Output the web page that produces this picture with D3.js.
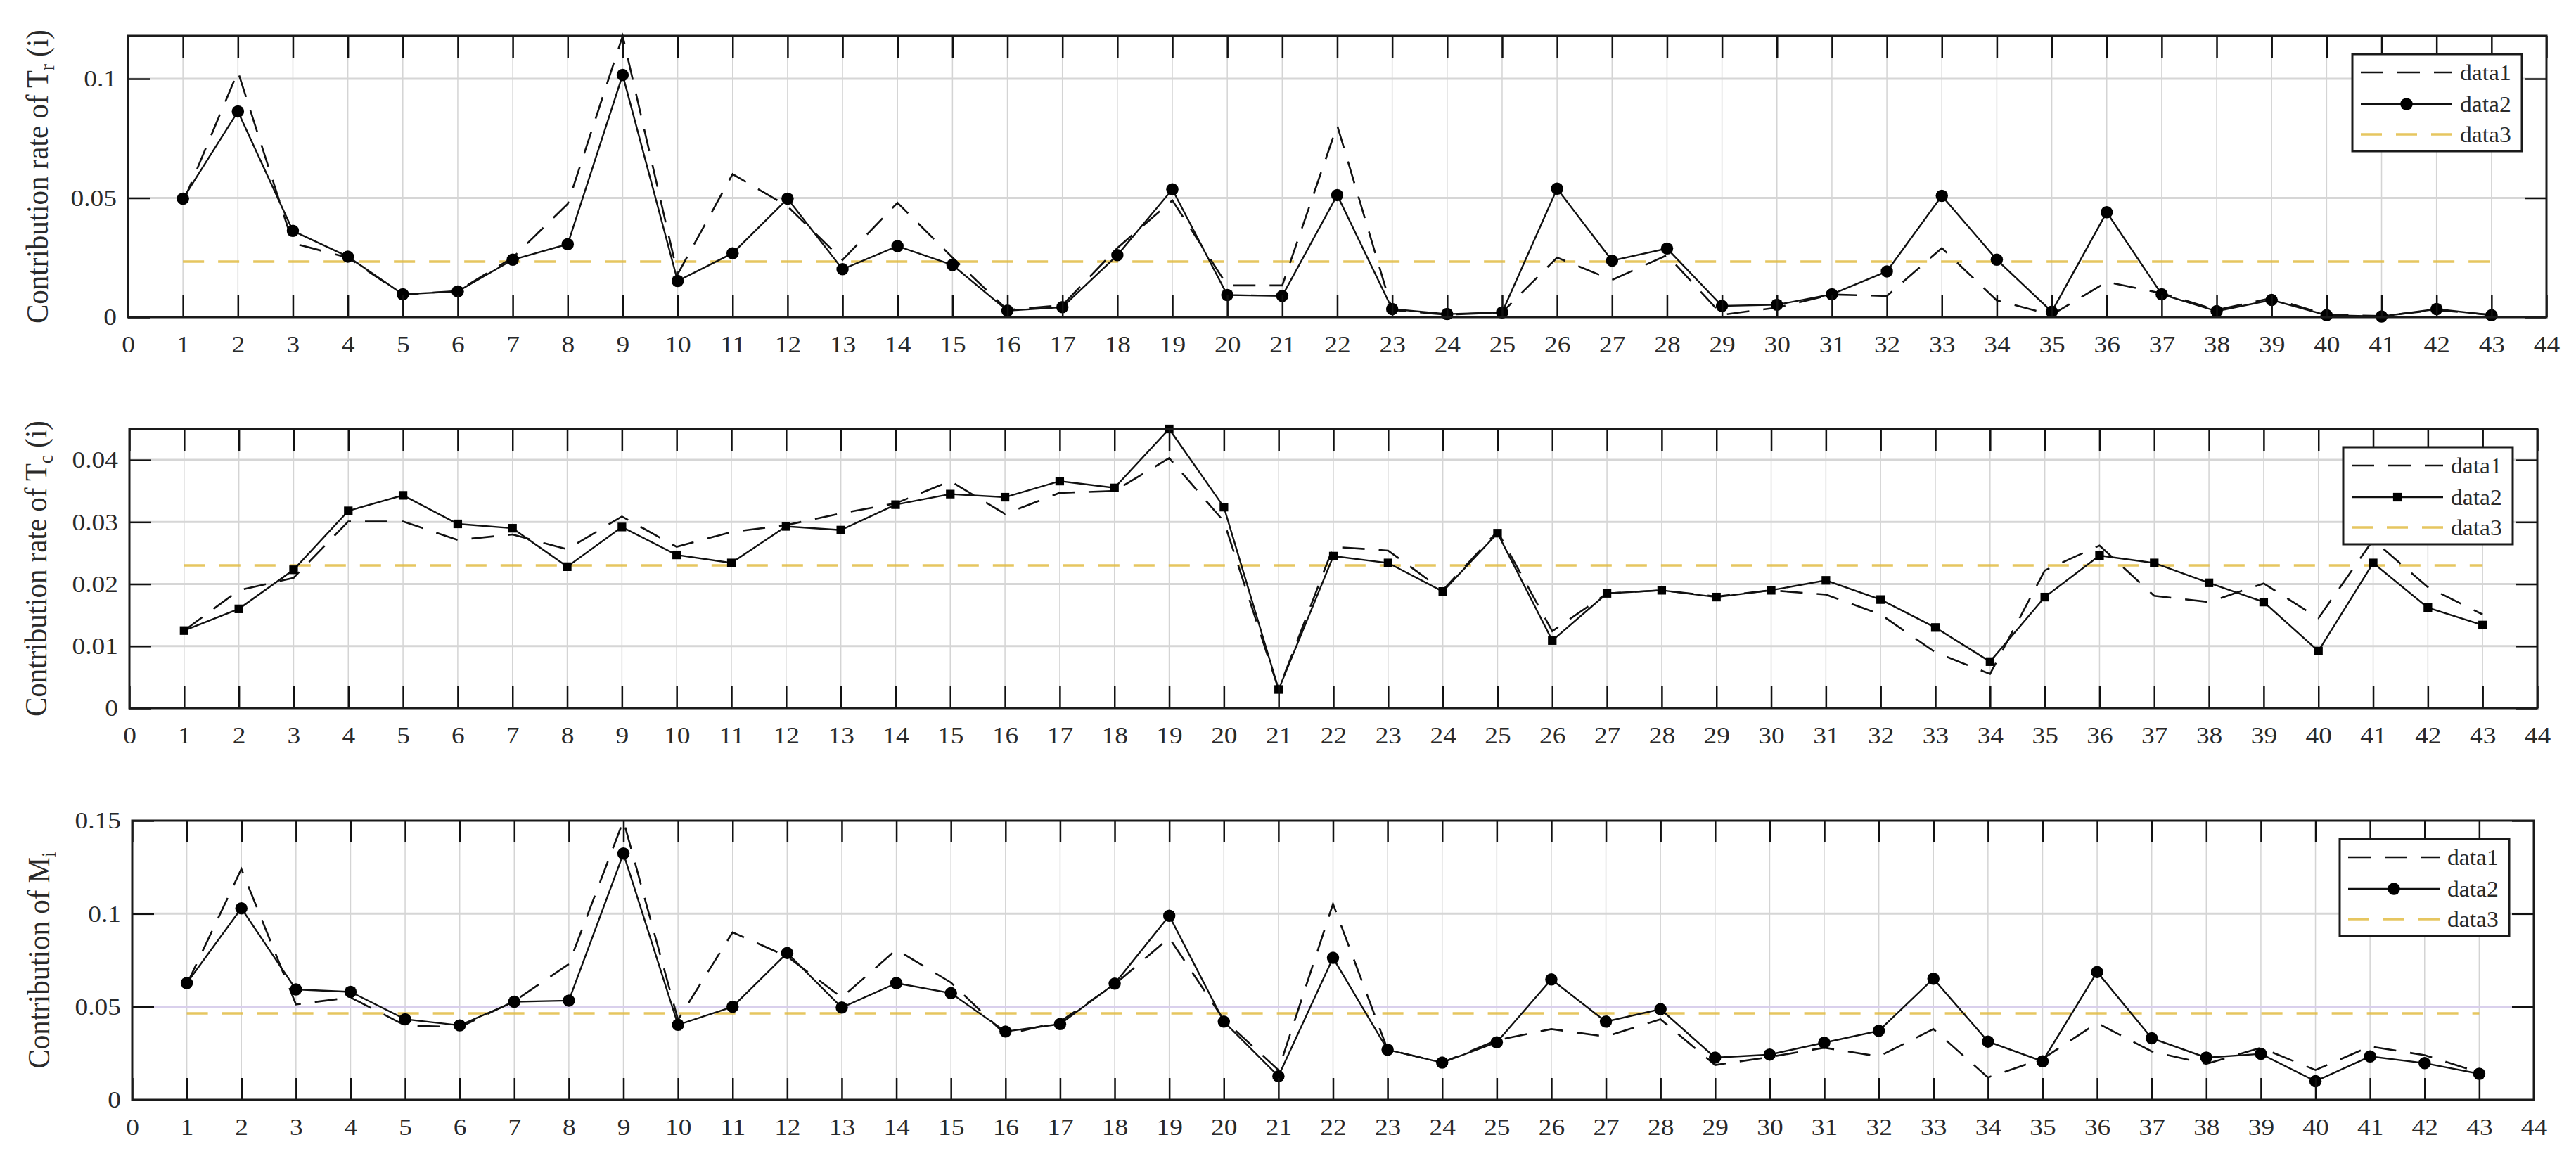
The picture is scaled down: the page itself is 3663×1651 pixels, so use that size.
<!DOCTYPE html>
<html><head><meta charset="utf-8">
<script src="https://cdn.jsdelivr.net/npm/d3@7"></script>
<style>body{margin:0;background:#fff}svg{display:block}</style>
</head><body>
<script>
// ---------- data ----------
const xCategories = [1,2,3,4,5,6,7,8,9,10,11,12,13,14,15,16,17,18,19,20,21,22,23,24,25,26,27,28,29,30,31,32,33,34,35,36,37,38,39,40,41,42,43];
const xTickLabels = ["0","1","2","3","4","5","6","7","8","9","10","11","12","13","14","15","16","17","18","19","20","21","22","23","24","25","26","27","28","29","30","31","32","33","34","35","36","37","38","39","40","41","42","43","44"];
const legendLabels = ["data1","data2","data3"];

// Panel 1: contribution rate of T_r(i)
const trData1 = [0.048,0.103,0.031,0.025,0.0095,0.011,0.025,0.0475,0.118,0.018,0.060,0.0465,0.024,0.048,0.025,0.003,0.005,0.029,0.049,0.0133,0.0133,0.0804,0.003,0.001,0.002,0.025,0.0156,0.026,0.001,0.004,0.0095,0.0089,0.029,0.007,0.001,0.0148,0.010,0.003,0.008,0.001,0.0005,0.003,0.001];
const trData2 = [0.0497,0.0863,0.0362,0.0254,0.0096,0.0108,0.0241,0.0306,0.1016,0.0152,0.0268,0.0497,0.0201,0.0298,0.0219,0.0027,0.0042,0.0260,0.0536,0.0093,0.0089,0.0512,0.0034,0.0013,0.0020,0.0539,0.0237,0.0288,0.0047,0.0052,0.0096,0.0192,0.0509,0.0241,0.0023,0.0440,0.0096,0.0025,0.0072,0.0008,0.0003,0.0034,0.0008];
const trMean = 0.0233;
const trYTicks = [0,0.05,0.1];
const trYTickLabels = ["0","0.05","0.1"];

// Panel 2: contribution rate of T_c(i)
const tcData1 = [0.0125,0.019,0.021,0.0301,0.0301,0.0271,0.028,0.0256,0.0309,0.026,0.0284,0.0295,0.0314,0.033,0.0366,0.0313,0.0347,0.035,0.0403,0.0301,0.003,0.026,0.0254,0.019,0.0285,0.0124,0.0185,0.019,0.018,0.019,0.0183,0.0151,0.009,0.0055,0.0222,0.0262,0.0181,0.0171,0.0201,0.0145,0.0271,0.0195,0.0151];
const tcData2 = [0.0125,0.0160,0.0223,0.0318,0.0343,0.0297,0.0290,0.0228,0.0292,0.0247,0.0234,0.0293,0.0287,0.0328,0.0345,0.0340,0.0366,0.0355,0.0450,0.0324,0.0030,0.0245,0.0234,0.0188,0.0282,0.0109,0.0185,0.0190,0.0179,0.0190,0.0206,0.0175,0.0130,0.0075,0.0179,0.0246,0.0234,0.0202,0.0171,0.0092,0.0234,0.0162,0.0134];
const tcMean = 0.0230;
const tcYTicks = [0,0.01,0.02,0.03,0.04];
const tcYTickLabels = ["0","0.01","0.02","0.03","0.04"];

// Panel 3: contribution of M_i
const mData1 = [0.062,0.124,0.0513,0.055,0.040,0.039,0.053,0.073,0.150,0.043,0.090,0.077,0.055,0.0807,0.063,0.035,0.042,0.062,0.087,0.043,0.016,0.1053,0.027,0.020,0.032,0.038,0.034,0.0433,0.0187,0.023,0.028,0.0233,0.038,0.012,0.022,0.0413,0.026,0.0193,0.028,0.016,0.0287,0.024,0.0147];
const mData2 = [0.0627,0.1029,0.0593,0.0580,0.0433,0.0400,0.0527,0.0533,0.1323,0.0403,0.0500,0.0789,0.0496,0.0627,0.0573,0.0367,0.0407,0.0624,0.0989,0.0420,0.0127,0.0763,0.0269,0.0200,0.0309,0.0647,0.0420,0.0487,0.0227,0.0243,0.0307,0.0371,0.0651,0.0313,0.0207,0.0687,0.0331,0.0227,0.0247,0.0100,0.0233,0.0197,0.0140];
const mMean = 0.0465;
const mYTicks = [0,0.05,0.1,0.15];
const mYTickLabels = ["0","0.05","0.1","0.15"];

// ---------- layout / style ----------
const W = 3663, H = 1651;
const FONT = "'Liberation Serif','Times New Roman',serif";
const SX = 1.1;       // horizontal stretch of text
const TICK = 31;
const svg = d3.select("body").append("svg").attr("width", W).attr("height", H)
  .style("font-family", FONT);

const panels = [
  {left:182, right:3621, top:51, bottom:451, ymax:0.118, d1:trData1, d2:trData2, mean:trMean,
   yTicks:trYTicks, yLabels:trYTickLabels, main:"Contribution rate of T", sub:"r", tail:" (i)",
   labelX:68, marker:"circle", gridSpecial:null},
  {left:184, right:3608, top:610, bottom:1007, ymax:0.045, d1:tcData1, d2:tcData2, mean:tcMean,
   yTicks:tcYTicks, yLabels:tcYTickLabels, main:"Contribution rate of T", sub:"c", tail:" (i)",
   labelX:66, marker:"square", gridSpecial:null},
  {left:188, right:3603, top:1167, bottom:1564, ymax:0.15, d1:mData1, d2:mData2, mean:mMean,
   yTicks:mYTicks, yLabels:mYTickLabels, main:"Contribution of M", sub:"i", tail:"",
   labelX:70, marker:"circle", gridSpecial:0.05}
];

panels.forEach(p => {
  const x = d3.scaleLinear().domain([0, 44]).range([p.left, p.right]);
  const y = d3.scaleLinear().domain([0, p.ymax]).range([p.bottom, p.top]);
  const g = svg.append("g");

  // vertical grid
  g.append("g").selectAll("line").data(xCategories).join("line")
    .attr("x1", d => x(d)).attr("x2", d => x(d))
    .attr("y1", p.top).attr("y2", p.bottom)
    .attr("stroke", "#d4d4d4").attr("stroke-width", 1.5);
  // horizontal grid
  g.append("g").selectAll("line").data(p.yTicks.filter(t => t > 0 && t < p.ymax)).join("line")
    .attr("x1", p.left).attr("x2", p.right)
    .attr("y1", d => y(d)).attr("y2", d => y(d))
    .attr("stroke", d => d === p.gridSpecial ? "#d9d0ec" : "#d6d6d6").attr("stroke-width", 3);

  // data3 (mean line)
  g.append("line")
    .attr("x1", x(xCategories[0])).attr("x2", x(xCategories[xCategories.length - 1]))
    .attr("y1", y(p.mean)).attr("y2", y(p.mean))
    .attr("stroke", "#e2bd45").attr("stroke-width", 3.5).attr("stroke-dasharray", "30,20")
    .attr("opacity", 0.85);

  const line = d3.line().x((d, i) => x(xCategories[i])).y(d => y(d));
  // data1 dashed
  g.append("path").attr("d", line(p.d1)).attr("fill", "none")
    .attr("stroke", "#111").attr("stroke-width", 2.6).attr("stroke-dasharray", "32,20");
  // data2 solid with markers
  g.append("path").attr("d", line(p.d2)).attr("fill", "none")
    .attr("stroke", "#111").attr("stroke-width", 2.4);
  const sym = p.marker === "square" ? d3.symbolSquare : d3.symbolCircle;
  const symSize = p.marker === "square" ? 150 : 240;
  g.append("g").selectAll("path").data(p.d2).join("path")
    .attr("transform", (d, i) => `translate(${x(xCategories[i])},${y(d)})`)
    .attr("d", d3.symbol().type(sym).size(symSize))
    .attr("fill", "#000");

  // axes (inward ticks)
  const axB = d3.axisBottom(x).tickValues(d3.range(0, 45)).tickFormat(d => xTickLabels[d])
    .tickSizeInner(-TICK).tickSizeOuter(0).tickPadding(26);
  const axT = d3.axisTop(x).tickValues(d3.range(0, 45)).tickFormat("")
    .tickSizeInner(-TICK).tickSizeOuter(0);
  const axL = d3.axisLeft(y).tickValues(p.yTicks).tickFormat((d, i) => p.yLabels[i])
    .tickSizeInner(-TICK).tickSizeOuter(0).tickPadding(16);
  const axR = d3.axisRight(y).tickValues(p.yTicks).tickFormat("")
    .tickSizeInner(-TICK).tickSizeOuter(0);

  const gB = g.append("g").attr("transform", `translate(0,${p.bottom})`).call(axB);
  const gT = g.append("g").attr("transform", `translate(0,${p.top})`).call(axT);
  const gL = g.append("g").attr("transform", `translate(${p.left},0)`).call(axL);
  const gR = g.append("g").attr("transform", `translate(${p.right},0)`).call(axR);
  [gB, gT, gL, gR].forEach(a => {
    a.select(".domain").remove();
    a.selectAll(".tick line").attr("stroke", "#111").attr("stroke-width", 2.5);
    a.attr("font-family", FONT);
  });
  gB.selectAll("text").attr("font-size", 34).attr("fill", "#2a2a2a")
    .attr("transform", `scale(${SX},1)`);
  gL.selectAll("text").attr("font-size", 34).attr("fill", "#2a2a2a")
    .attr("x", -16 / SX).attr("transform", `scale(${SX},1)`);

  // box
  g.append("rect").attr("x", p.left).attr("y", p.top)
    .attr("width", p.right - p.left).attr("height", p.bottom - p.top)
    .attr("fill", "none").attr("stroke", "#1a1a1a").attr("stroke-width", 3);

  // y label
  const lab = g.append("text")
    .attr("transform", `translate(${p.labelX},${(p.top + p.bottom) / 2}) scale(${SX},1) rotate(-90)`)
    .attr("text-anchor", "middle").attr("font-size", 41).attr("fill", "#2a2a2a");
  lab.append("tspan").text(p.main);
  lab.append("tspan").attr("font-size", 27).attr("dy", 8).text(p.sub);
  if (p.tail) lab.append("tspan").attr("dy", -8).text(p.tail);

  // legend
  const lw = 241, lh = 138;
  const lx = p.right - 35 - lw, ly = p.top + 26;
  const lg = g.append("g");
  lg.append("rect").attr("x", lx).attr("y", ly).attr("width", lw).attr("height", lh)
    .attr("fill", "#fff").attr("stroke", "#1a1a1a").attr("stroke-width", 3);
  const rows = [26, 71, 114];
  legendLabels.forEach((name, i) => {
    const ry = ly + rows[i];
    const ln = lg.append("line").attr("x1", lx + 12).attr("x2", lx + 142)
      .attr("y1", ry).attr("y2", ry);
    if (i === 0) ln.attr("stroke", "#111").attr("stroke-width", 2.6).attr("stroke-dasharray", "32,20");
    if (i === 1) {
      ln.attr("stroke", "#111").attr("stroke-width", 2.6);
      lg.append("path").attr("transform", `translate(${lx + 77},${ry})`)
        .attr("d", d3.symbol().type(sym).size(symSize)).attr("fill", "#000");
    }
    if (i === 2) ln.attr("stroke", "#e2bd45").attr("stroke-width", 3.5).attr("stroke-dasharray", "30,20").attr("opacity", 0.85);
    lg.append("text").attr("transform", `translate(${lx + 153},${ry + 11}) scale(1.05,1)`)
      .attr("font-size", 32).attr("fill", "#2a2a2a").text(name);
  });
});
</script>
</body></html>
